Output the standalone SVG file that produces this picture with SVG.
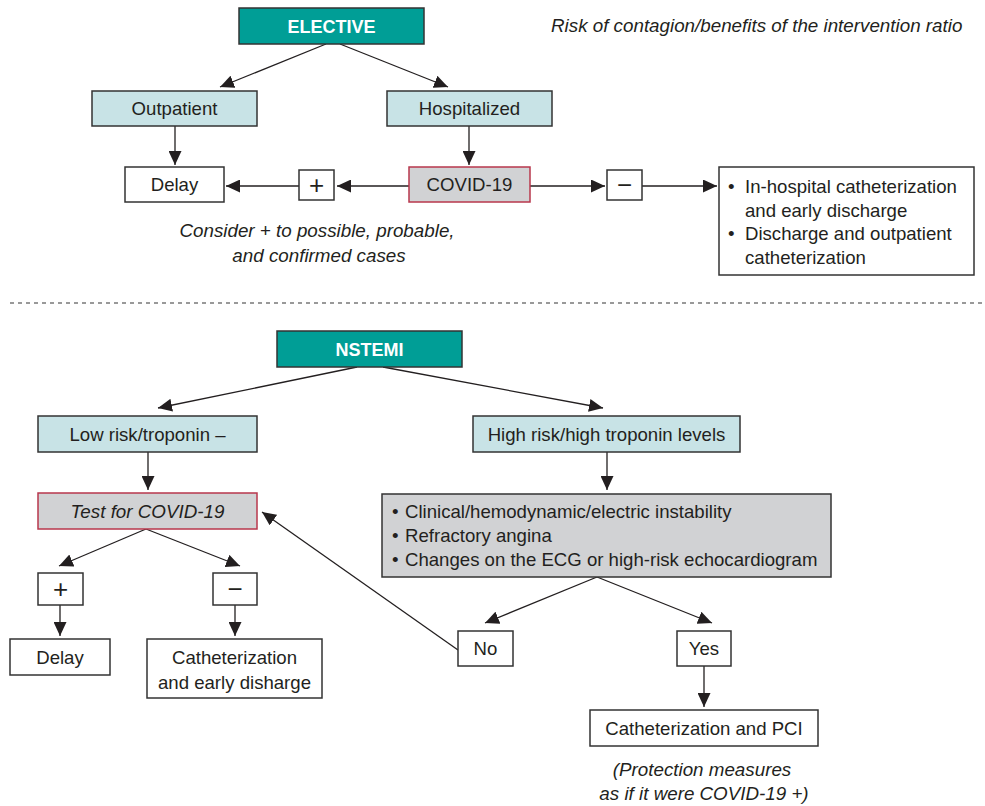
<svg xmlns="http://www.w3.org/2000/svg" width="985" height="806" viewBox="0 0 985 806">
<style>
text{font-family:"Liberation Sans",Arial,sans-serif;font-size:18.6px;fill:#231f20}
.c{text-anchor:middle}
.it{font-style:italic;font-size:18.8px}
.hd{fill:#fff;font-weight:bold;font-size:18px}
.sg{font-size:26px}
.teal{fill:#009e96;stroke:#333;stroke-width:1.5}
.blue{fill:#c8e3e6;stroke:#333;stroke-width:1.5}
.white{fill:#fff;stroke:#333;stroke-width:1.5}
.grayr{fill:#d1d2d4;stroke:#b8374c;stroke-width:1.5}
.gray{fill:#d1d2d4;stroke:#333;stroke-width:1.5}
.ln{fill:none;stroke:#231f20;stroke-width:1.3;marker-end:url(#ah)}
</style>
<defs>
<marker id="ah" markerWidth="15" markerHeight="13" refX="14" refY="6.5" orient="auto" markerUnits="userSpaceOnUse">
<path d="M0,0 L14,6.5 L0,13 Z" fill="#231f20"/>
</marker>
</defs>
<rect width="985" height="806" fill="#fff"/>

<text class="it" x="551" y="32">Risk of contagion/benefits of the intervention ratio</text>
<text class="it c" x="317" y="237">Consider + to possible, probable,</text>
<text class="it c" x="319" y="262">and confirmed cases</text>
<line x1="10" y1="303" x2="985" y2="303" stroke="#999" stroke-width="2" stroke-dasharray="4 4"/>
<text class="it c" x="702" y="776">(Protection measures</text>
<text class="it c" x="704" y="800">as if it were COVID-19 +)</text>

<g id="connectors">
<line class="ln" x1="326" y1="44" x2="220" y2="87"/>
<line class="ln" x1="340" y1="44" x2="448" y2="87"/>
<line class="ln" x1="175" y1="126" x2="175" y2="165"/>
<line class="ln" x1="469" y1="126" x2="469" y2="165"/>
<line class="ln" x1="409" y1="186" x2="337" y2="186"/>
<line class="ln" x1="299" y1="186" x2="226" y2="186"/>
<line class="ln" x1="530" y1="186" x2="605" y2="186"/>
<line class="ln" x1="642" y1="186" x2="717" y2="186"/>
<line class="ln" x1="357" y1="367" x2="158" y2="408"/>
<line class="ln" x1="383" y1="367" x2="603" y2="408"/>
<line class="ln" x1="148" y1="452" x2="148" y2="490"/>
<line class="ln" x1="607" y1="452" x2="607" y2="490"/>
<line class="ln" x1="146" y1="529" x2="59" y2="566"/>
<line class="ln" x1="146" y1="529" x2="240" y2="566"/>
<line class="ln" x1="60" y1="605" x2="60" y2="636"/>
<line class="ln" x1="235" y1="605" x2="235" y2="636"/>
<line class="ln" x1="597" y1="577" x2="485" y2="623"/>
<line class="ln" x1="597" y1="577" x2="712" y2="623"/>
<line class="ln" x1="458" y1="650" x2="262" y2="512"/>
<line class="ln" x1="704" y1="666" x2="704" y2="707"/>
</g>

<g id="elective"><rect class="teal" x="239" y="8" width="185" height="36"/><text class="c hd" x="331.5" y="32.5">ELECTIVE</text></g>
<g id="outpatient"><rect class="blue" x="92" y="91" width="165" height="35"/><text class="c" x="174.5" y="115">Outpatient</text></g>
<g id="hospitalized"><rect class="blue" x="387" y="91" width="165" height="35"/><text class="c" x="469.5" y="115">Hospitalized</text></g>
<g id="delay1"><rect class="white" x="125" y="167" width="99" height="35"/><text class="c" x="174.5" y="191">Delay</text></g>
<g id="plus1"><rect class="white" x="299" y="170" width="35" height="30"/><text class="c sg" x="316.5" y="194">+</text></g>
<g id="covid"><rect class="grayr" x="409" y="167" width="121" height="35"/><text class="c" x="469.5" y="191">COVID-19</text></g>
<g id="minus1"><rect class="white" x="607" y="170" width="35" height="30"/><text class="c sg" x="624.5" y="194">−</text></g>
<g id="options"><rect class="white" x="719" y="167" width="255" height="108"/>
<text x="728" y="193">•</text><text x="745" y="193">In-hospital catheterization</text>
<text x="745" y="217">and early discharge</text>
<text x="728" y="240">•</text><text x="745" y="240">Discharge and outpatient</text>
<text x="745" y="264">catheterization</text></g>

<g id="nstemi"><rect class="teal" x="277" y="331" width="185" height="36"/><text class="c hd" x="369.5" y="355.5">NSTEMI</text></g>
<g id="lowrisk"><rect class="blue" x="38" y="416" width="219" height="36"/><text class="c" x="147.5" y="440.5">Low risk/troponin –</text></g>
<g id="highrisk"><rect class="blue" x="473" y="416" width="267" height="36"/><text class="c" x="606.5" y="440.5">High risk/high troponin levels</text></g>
<g id="test"><rect class="grayr" x="38" y="493" width="219" height="36"/><text class="c it" x="147.5" y="517.5">Test for COVID-19</text></g>
<g id="criteria"><rect class="gray" x="382" y="494" width="449" height="83"/>
<text x="392" y="518">•</text><text x="405" y="518">Clinical/hemodynamic/electric instability</text>
<text x="392" y="542">•</text><text x="405" y="542">Refractory angina</text>
<text x="392" y="566">•</text><text x="405" y="566">Changes on the ECG or high-risk echocardiogram</text></g>
<g id="plus2"><rect class="white" x="38" y="573" width="45" height="32"/><text class="c sg" x="60.5" y="598">+</text></g>
<g id="minus2"><rect class="white" x="213" y="573" width="44" height="32"/><text class="c sg" x="235" y="598">−</text></g>
<g id="delay2"><rect class="white" x="10" y="639" width="100" height="36"/><text class="c" x="60" y="664">Delay</text></g>
<g id="cathearly"><rect class="white" x="147" y="639" width="175" height="59"/><text class="c" x="234.5" y="664">Catheterization</text><text class="c" x="234.5" y="689">and early disharge</text></g>
<g id="no"><rect class="white" x="458" y="631" width="55" height="35"/><text class="c" x="485.5" y="655">No</text></g>
<g id="yes"><rect class="white" x="677" y="631" width="54" height="35"/><text class="c" x="704" y="655">Yes</text></g>
<g id="cathpci"><rect class="white" x="590" y="710" width="228" height="36"/><text class="c" x="704" y="734.5">Catheterization and PCI</text></g>
</svg>
